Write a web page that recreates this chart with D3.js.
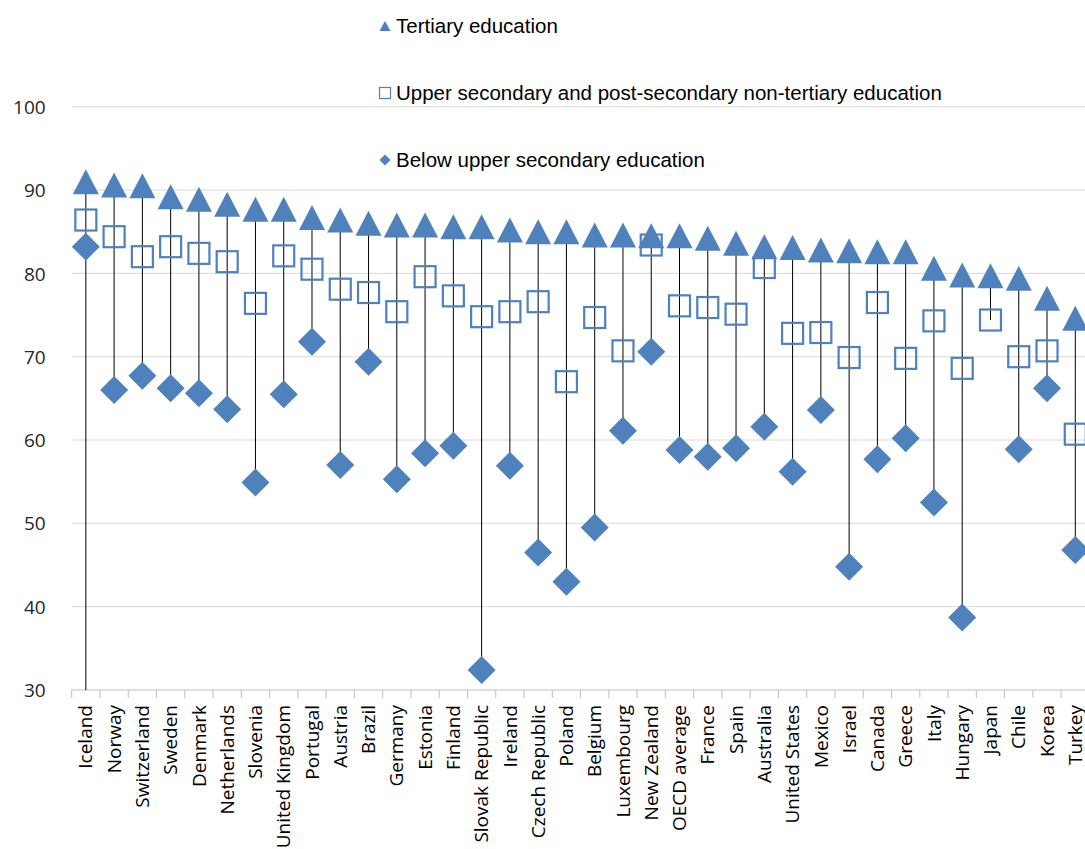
<!DOCTYPE html>
<html>
<head>
<meta charset="utf-8">
<script src="https://cdn.jsdelivr.net/npm/d3@7"></script>
<style>
  body { margin: 0; background: #fff; }
  svg { display: block; }
  .grid line { stroke: #d9d9d9; stroke-width: 1; }
  .ytick text { font-family: "Open Sans", sans-serif; font-size: 19px; fill: #262626; }
  .xlab text { font-family: "Open Sans", sans-serif; font-size: 19px; fill: #000; }
  .legend text { font-family: "Liberation Sans", Arial, sans-serif; font-size: 20.5px; fill: #000; }
</style>
</head>
<body>
<div id="chart"></div>
<script>
// countries, sorted by tertiary rate
const countries = ["Iceland", "Norway", "Switzerland", "Sweden", "Denmark", "Netherlands", "Slovenia",
  "United Kingdom", "Portugal", "Austria", "Brazil", "Germany", "Estonia", "Finland", "Slovak Republic",
  "Ireland", "Czech Republic", "Poland", "Belgium", "Luxembourg", "New Zealand", "OECD average", "France",
  "Spain", "Australia", "United States", "Mexico", "Israel", "Canada", "Greece", "Italy", "Hungary",
  "Japan", "Chile", "Korea", "Turkey"];

const tertiary = [91.0, 90.6, 90.5, 89.2, 88.9, 88.3, 87.7, 87.7, 86.7, 86.4, 86.0, 85.8, 85.8, 85.6, 85.6,
  85.2, 85.0, 85.0, 84.6, 84.6, 84.5, 84.5, 84.2, 83.6, 83.2, 83.1, 82.8, 82.7, 82.6, 82.6, 80.6, 79.8,
  79.7, 79.4, 77.0, 74.6];

const upperSecondary = [86.4, 84.4, 82.0, 83.2, 82.4, 81.4, 76.4, 82.1, 80.5, 78.1, 77.7, 75.4, 79.6, 77.3, 74.8,
  75.4, 76.6, 67.0, 74.7, 70.7, 83.4, 76.1, 75.9, 75.1, 80.7, 72.8, 72.9, 69.9, 76.5, 69.8, 74.3, 68.6,
  74.4, 70.0, 70.7, 60.7];

const belowUpper = [83.2, 66.0, 67.7, 66.2, 65.6, 63.7, 54.9, 65.5, 71.8, 57.0, 69.4, 55.3, 58.4, 59.3, 32.4,
  56.9, 46.5, 43.0, 49.5, 61.1, 70.6, 58.8, 58.0, 59.0, 61.6, 56.2, 63.6, 44.8, 57.7, 60.2, 52.5, 38.7,
  null, 58.9, 66.2, 46.8];

// in the source the Iceland high-low line runs down to the axis floor
const lowLineOverride = { "Iceland": 30 };

const yTicks = [30, 40, 50, 60, 70, 80, 90, 100];

const legendLabels = ["Tertiary education",
  "Upper secondary and post-secondary non-tertiary education",
  "Below upper secondary education"];

const width = 1085, height = 849;
const blue = "#4f81bd";
const plotLeft = 71.7, step = 28.27, plotBottom = 690, plotTop = 106.7;

const svg = d3.select("#chart").append("svg")
  .attr("width", width)
  .attr("height", height);

const x = d3.scaleBand()
  .domain(countries)
  .range([plotLeft, plotLeft + step * countries.length]);

const y = d3.scaleLinear()
  .domain([30, 100])
  .range([plotBottom, plotTop]);

const rows = countries.map((c, i) => ({
  country: c,
  t: tertiary[i],
  u: upperSecondary[i],
  b: belowUpper[i]
}));

// gridlines
svg.append("g").attr("class", "grid")
  .selectAll("line")
  .data(yTicks.filter(d => d > 30))
  .enter().append("line")
  .attr("x1", plotLeft).attr("x2", width)
  .attr("y1", d => y(d)).attr("y2", d => y(d));

// y axis labels
const yAxis = svg.append("g").attr("class", "ytick")
  .attr("transform", `translate(${plotLeft - 26},0)`)
  .call(d3.axisLeft(y).tickValues(yTicks).tickSize(0).tickPadding(0));
yAxis.select(".domain").remove();
yAxis.selectAll("text").attr("dy", "0.35em");

// x axis: line, ticks on band edges, rotated labels
svg.append("line")
  .attr("x1", plotLeft).attr("x2", width)
  .attr("y1", plotBottom).attr("y2", plotBottom)
  .attr("stroke", "#bfbfbf").attr("stroke-width", 1);

svg.append("g")
  .selectAll("line")
  .data(countries)
  .enter().append("line")
  .attr("x1", d => x(d)).attr("x2", d => x(d))
  .attr("y1", plotBottom).attr("y2", plotBottom + 8)
  .attr("stroke", "#bfbfbf");

const xAxis = svg.append("g").attr("class", "xlab")
  .attr("transform", `translate(0,${plotBottom})`)
  .call(d3.axisBottom(x).tickSize(0).tickPadding(0));
xAxis.select(".domain").remove();
xAxis.selectAll("text")
  .attr("transform", "rotate(-90)")
  .attr("text-anchor", "end")
  .attr("x", -15)
  .attr("y", 0)
  .attr("dy", "0.35em");

// high-low lines
const cx = d => x(d.country) + x.bandwidth() / 2;
svg.append("g")
  .selectAll("line")
  .data(rows)
  .enter().append("line")
  .attr("x1", cx).attr("x2", cx)
  .attr("y1", d => y(d3.max([d.t, d.u, d.b])))
  .attr("y2", d => {
    const lo = lowLineOverride[d.country] != null ? lowLineOverride[d.country] : d3.min([d.t, d.u, d.b]);
    return y(lo);
  })
  .attr("stroke", "#000")
  .attr("stroke-width", 1);

// markers
const triPath = (w, h) => `M0,${-h / 2}L${w / 2},${h / 2}L${-w / 2},${h / 2}Z`;
const diaPath = r => `M0,${-r}L${r},0L0,${r}L${-r},0Z`;

svg.append("g")
  .selectAll("path")
  .data(rows)
  .enter().append("path")
  .attr("d", triPath(26, 25))
  .attr("transform", d => `translate(${cx(d)},${y(d.t)})`)
  .attr("fill", blue);

svg.append("g")
  .selectAll("rect")
  .data(rows.filter(d => d.u != null))
  .enter().append("rect")
  .attr("x", d => cx(d) - 10.5)
  .attr("y", d => y(d.u) - 10.5)
  .attr("width", 21).attr("height", 21)
  .attr("fill", "none")
  .attr("stroke", blue)
  .attr("stroke-width", 2.2);

svg.append("g")
  .selectAll("path")
  .data(rows.filter(d => d.b != null))
  .enter().append("path")
  .attr("d", diaPath(14))
  .attr("transform", d => `translate(${cx(d)},${y(d.b)})`)
  .attr("fill", blue);

// legend
const legendY = [26, 93, 160];
const legend = svg.append("g").attr("class", "legend");
legendLabels.forEach((lab, i) => {
  const g = legend.append("g").attr("transform", `translate(385,${legendY[i]})`);
  if (i === 0) {
    g.append("path").attr("d", triPath(11, 10)).attr("fill", blue);
  } else if (i === 1) {
    g.append("rect").attr("x", -5.5).attr("y", -5.5).attr("width", 11).attr("height", 11)
      .attr("fill", "none").attr("stroke", blue).attr("stroke-width", 1.2);
  } else {
    g.append("path").attr("d", diaPath(5.5)).attr("fill", blue);
  }
  g.append("text")
    .attr("x", 11)
    .attr("y", 0)
    .attr("dy", "0.35em")
    .text(lab);
});
</script>
</body>
</html>
